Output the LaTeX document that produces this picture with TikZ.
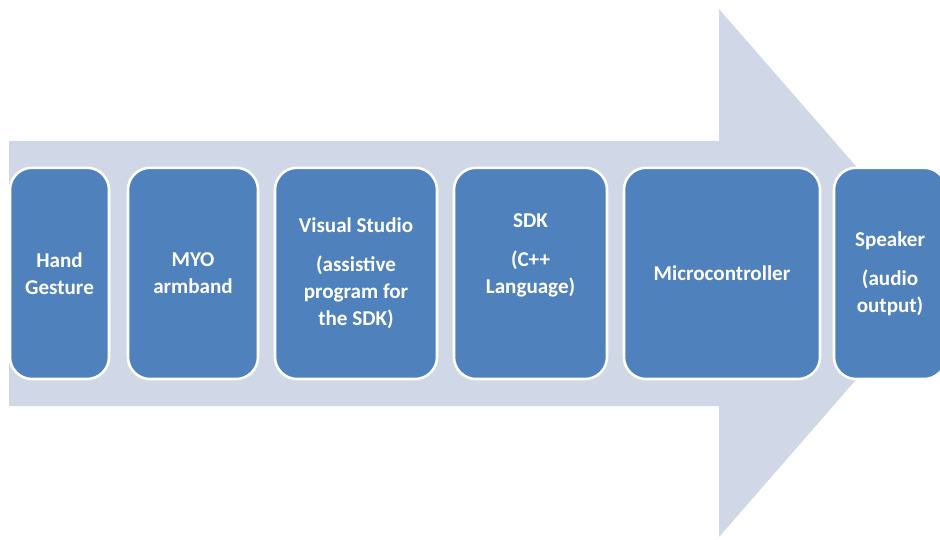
\documentclass[tikz,border=0pt]{standalone}
\usepackage{fontspec}
\setmainfont{Carlito}
\usetikzlibrary{positioning}
\definecolor{arrowfill}{HTML}{D0D8E8}
\definecolor{boxfill}{HTML}{4F81BD}

\begin{document}
\begin{tikzpicture}[
    stage/.style={draw=white, line width=1.8pt, fill=boxfill, rounded corners=0.55cm, minimum height=5.28cm, align=center, text=white, font=\fontsize{15}{19.3}\selectfont\bfseries, inner sep=0pt},
]
\useasboundingbox (0,0) rectangle (23.5,13.475);
\clip (0,0) rectangle (23.5,13.475);

% Big background arrow
\fill[arrowfill] (0.225,3.325) -- (17.975,3.325) -- (17.975,0.05) -- (23.725,6.65)
    -- (17.975,13.25) -- (17.975,9.95) -- (0.225,9.95) -- cycle;

% Stages
\node[stage, minimum width=2.475cm] (hand) at (1.4875,6.64) {Hand\\Gesture};
\node[stage, minimum width=3.25cm] (myo) at (4.825,6.64) {MYO\\armband};
\node[stage, minimum width=4.05cm] (vs) at (8.9,6.64) {Visual Studio\\[0.3cm](assistive\\program for\\the SDK)};
\node[stage, minimum width=3.825cm] (sdk) at (13.2625,6.64) {SDK\\[0.3cm](C++\\Language)\\[0.3cm]\mbox{}};
\node[stage, minimum width=4.9cm] (mcu) at (18.05,6.64) {Microcontroller};
\node[stage, minimum width=2.8cm] (spk) at (22.25,6.64) {Speaker\\[0.3cm](audio\\output)};

\end{tikzpicture}
\end{document}
